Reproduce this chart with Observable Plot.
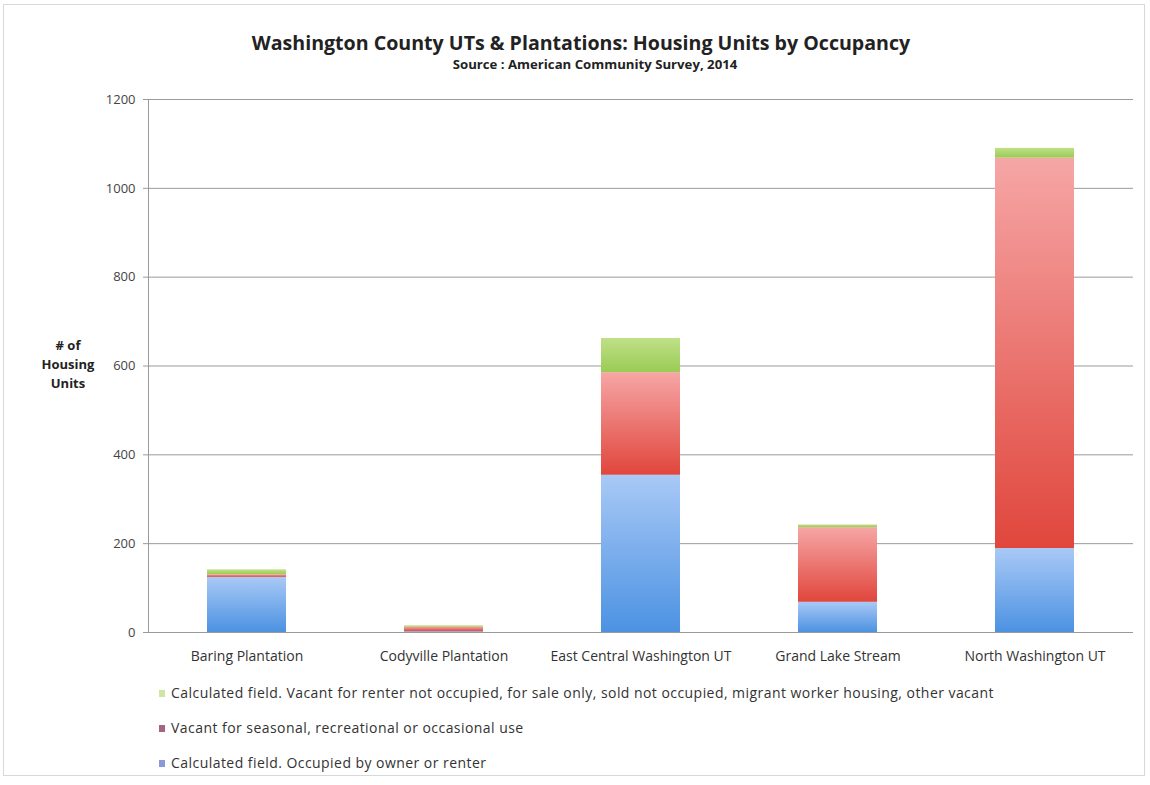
<!DOCTYPE html>
<html>
<head>
<meta charset="utf-8">
<script src="https://cdn.jsdelivr.net/npm/d3@7"></script>
<script src="https://cdn.jsdelivr.net/npm/@observablehq/plot@0.6"></script>
<style>
  html, body { margin: 0; padding: 0; background: #fff; }
  #wrap { position: relative; width: 1150px; height: 785px; font-family: "Open Sans", sans-serif; color: #333; }
  #frame { position: absolute; left: 3px; top: 4px; width: 1142px; height: 772px; border: 1px solid #d8d8d8; box-sizing: border-box; }
  #title { position: absolute; left: 0; width: 1162px; top: 29px; text-align: center; font-weight: bold; font-size: 19.6px; color: #222; }
  #subtitle { position: absolute; left: 0; width: 1190px; top: 55px; text-align: center; font-weight: bold; font-size: 13.2px; color: #222; }
  #ylab { position: absolute; left: 38px; width: 60px; top: 336px; text-align: center; font-weight: bold; font-size: 13px; line-height: 19px; color: #222; }
  #chart { position: absolute; left: 0; top: 80px; }
  .leg { position: absolute; left: 159px; font-size: 14px; letter-spacing: 0.45px; color: #333; white-space: nowrap; }
  .leg span.sw { display: inline-block; width: 6px; height: 7px; margin-right: 6px; vertical-align: 1px; }
</style>
</head>
<body>
<div id="wrap">
  <div id="frame"></div>
  <div id="title">Washington County UTs &amp; Plantations: Housing Units by Occupancy</div>
  <div id="subtitle">Source : American Community Survey, 2014</div>
  <div id="ylab"># of<br>Housing<br>Units</div>
  <div id="chart"></div>
  <div id="legend"></div>
</div>
<script>
const categories = ["Baring Plantation", "Codyville Plantation", "East Central Washington UT", "Grand Lake Stream", "North Washington UT"];
const occupied = [124, 2, 354, 68, 189];
const seasonal = [6, 10, 231, 168, 879];
const otherVacant = [11, 3, 77, 6, 22];
const seriesNames = [
  "Calculated field. Occupied by owner or renter",
  "Vacant for seasonal, recreational or occasional use",
  "Calculated field. Vacant for renter not occupied, for sale only, sold not occupied, migrant worker housing, other vacant"
];
const yTicks = [0, 200, 400, 600, 800, 1000, 1200];

const seriesValues = [occupied, seasonal, otherVacant];
const data = [];
categories.forEach((c, i) => {
  seriesNames.forEach((s, j) => data.push({category: c, series: s, value: seriesValues[j][i]}));
});

const gradIds = ["gBlue", "gRed", "gGreen"];
const gradStops = [["#a9c9f6", "#4c92e2"], ["#f6a6a6", "#e0463c"], ["#bfe088", "#9acb55"]];
const swatch = ["#8a9ad8", "#a8647e", "#cfe6a0"];

const chart = Plot.plot({
  width: 1150,
  height: 600,
  marginTop: 19,
  marginBottom: 48,
  marginLeft: 148,
  marginRight: 17,
  style: {fontFamily: "Open Sans, sans-serif", fontSize: "12px", color: "#444", background: "transparent"},
  x: {domain: categories, paddingInner: 0.6, paddingOuter: 0.3, label: null},
  y: {domain: [0, 1200], ticks: yTicks, label: null},
  color: {domain: seriesNames, range: gradIds.map(g => `url(#${g})`)},
  marks: [
    Plot.gridY(yTicks, {stroke: "#9a9a9a", strokeOpacity: 1, strokeWidth: 1}),
    Plot.frame({anchor: "left", stroke: "#9a9a9a"}),
    Plot.barY(data, Plot.stackY({x: "category", y: "value", fill: "series", order: seriesNames})),
    Plot.axisY({ticks: yTicks, tickFormat: "d", tickSize: 5, tickPadding: 8, stroke: "#9a9a9a", fill: "#444", fontSize: 13, style: {letterSpacing: "0.3px"}}),
    Plot.axisX({tickSize: 0, tickPadding: 19, fontSize: 14, fill: "#333", style: {letterSpacing: "0.45px"}})
  ]
});

const defs = d3.select(chart).insert("defs", ":first-child");
gradIds.forEach((id, k) => {
  const g = defs.append("linearGradient").attr("id", id).attr("x1", 0).attr("y1", 0).attr("x2", 0).attr("y2", 1);
  g.append("stop").attr("offset", "0%").attr("stop-color", gradStops[k][0]);
  g.append("stop").attr("offset", "100%").attr("stop-color", gradStops[k][1]);
});
document.getElementById("chart").appendChild(chart);

const legendOrder = [2, 1, 0];
const legendTops = [683, 718, 753];
const legend = document.getElementById("legend");
legendOrder.forEach((k, i) => {
  const d = document.createElement("div");
  d.className = "leg";
  d.style.top = legendTops[i] + "px";
  d.innerHTML = `<span class="sw" style="background:${swatch[k]}"></span>${seriesNames[k]}`;
  legend.appendChild(d);
});
</script>
</body>
</html>
